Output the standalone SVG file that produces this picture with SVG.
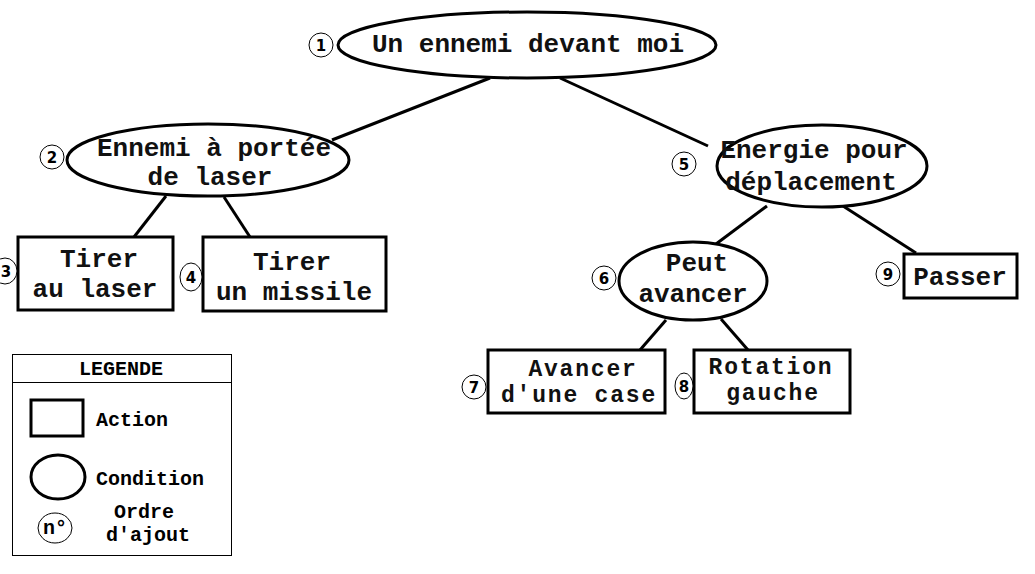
<svg xmlns="http://www.w3.org/2000/svg" width="1035" height="574" viewBox="0 0 1035 574">
<style>
.bg{fill:#fff}
.cond{fill:#fff;stroke:#000;stroke-width:3}
.act{fill:#fff;stroke:#000;stroke-width:3}
.num{fill:#fff;stroke:#000;stroke-width:1}
.edge{stroke:#000;stroke-width:3;fill:none}
.t{font-family:"Liberation Mono","Courier New",monospace;font-size:26px;font-weight:bold;fill:#111;text-anchor:middle}
.ts{font-size:23px;letter-spacing:1.8px}
.n{font-family:"DejaVu Sans","Liberation Sans",sans-serif;font-size:15px;font-weight:bold;fill:#000;text-anchor:middle}
.lg{font-family:"Liberation Mono","Courier New",monospace;font-size:20px;font-weight:bold;fill:#000}
</style>
<rect class="bg" x="0" y="0" width="1035" height="574"/>
<g id="connectors">
<line class="edge" x1="490" y1="78" x2="332" y2="140"/>
<line class="edge" x1="560" y1="78" x2="708" y2="146"/>
<line class="edge" x1="166" y1="196" x2="134" y2="237"/>
<line class="edge" x1="224" y1="197" x2="250" y2="237"/>
<line class="edge" x1="767" y1="206" x2="716" y2="244"/>
<line class="edge" x1="843" y1="206" x2="916" y2="253"/>
<line class="edge" x1="666" y1="320" x2="640" y2="350"/>
<line class="edge" x1="721" y1="319" x2="748" y2="350"/>
</g>
<g id="node1">
<ellipse class="cond" cx="527" cy="45" rx="189" ry="33"/>
<text class="t" x="528" y="52">Un ennemi devant moi</text>
<circle class="num" cx="321" cy="45" r="12"/>
<text class="n" x="321" y="51">1</text>
</g>
<g id="node2">
<ellipse class="cond" cx="208" cy="160" rx="141" ry="36"/>
<text class="t" x="214" y="156">Ennemi à portée</text>
<text class="t" x="210" y="185">de laser</text>
<circle class="num" cx="52" cy="157" r="12"/>
<text class="n" x="52" y="163">2</text>
</g>
<g id="node3">
<rect class="act" x="18" y="237" width="155" height="73"/>
<text class="t" x="99" y="267">Tirer</text>
<text class="t" x="95" y="297">au laser</text>
<ellipse class="num" cx="5" cy="271" rx="12" ry="13"/>
<text class="n" x="6" y="277">3</text>
</g>
<g id="node4">
<rect class="act" x="203" y="237" width="183" height="74"/>
<text class="t" x="292" y="270">Tirer</text>
<text class="t" x="294" y="300">un missile</text>
<ellipse class="num" cx="191" cy="277" rx="11" ry="14"/>
<text class="n" x="191" y="283">4</text>
</g>
<g id="node5">
<ellipse class="cond" cx="822" cy="166" rx="105" ry="41"/>
<text class="t" x="814" y="158">Energie pour</text>
<text class="t" x="811" y="190">déplacement</text>
<circle class="num" cx="684" cy="164" r="12"/>
<text class="n" x="684" y="170">5</text>
</g>
<g id="node6">
<ellipse class="cond" cx="693" cy="281" rx="74" ry="39"/>
<text class="t" x="697" y="271">Peut</text>
<text class="t" x="693" y="302">avancer</text>
<circle class="num" cx="604" cy="278" r="12"/>
<text class="n" x="604" y="284">6</text>
</g>
<g id="node7">
<rect class="act" x="488" y="350" width="177" height="63"/>
<text class="t ts" x="583" y="376">Avancer</text>
<text class="t ts" x="579" y="402">d'une case</text>
<circle class="num" cx="474" cy="387" r="12"/>
<text class="n" x="474" y="393">7</text>
</g>
<g id="node8">
<rect class="act" x="694" y="350" width="156" height="63"/>
<text class="t ts" x="771" y="374">Rotation</text>
<text class="t ts" x="773" y="400">gauche</text>
<ellipse class="num" cx="684" cy="386" rx="9" ry="13"/>
<text class="n" x="684" y="392">8</text>
</g>
<g id="node9">
<rect class="act" x="904" y="254" width="113" height="44"/>
<text class="t" x="960" y="285">Passer</text>
<circle class="num" cx="888" cy="274" r="12"/>
<text class="n" x="888" y="280">9</text>
</g>
<g id="legend">
<rect x="12.5" y="354.5" width="219" height="201" fill="#fff" stroke="#000" stroke-width="1"/>
<line x1="12.5" y1="382.5" x2="231.5" y2="382.5" stroke="#000" stroke-width="1"/>
<text class="lg" x="121" y="375" text-anchor="middle" font-size="19">LEGENDE</text>
<rect class="act" x="31" y="400" width="52" height="36"/>
<text class="lg" x="96" y="426">Action</text>
<ellipse class="cond" cx="58" cy="477" rx="27" ry="22"/>
<text class="lg" x="96" y="485">Condition</text>
<ellipse class="num" cx="55" cy="528" rx="17" ry="15"/>
<text class="lg" x="55" y="534" text-anchor="middle" font-size="17">n°</text>
<text class="lg" x="144" y="518" text-anchor="middle">Ordre</text>
<text class="lg" x="148" y="541" text-anchor="middle">d'ajout</text>
</g>
</svg>
